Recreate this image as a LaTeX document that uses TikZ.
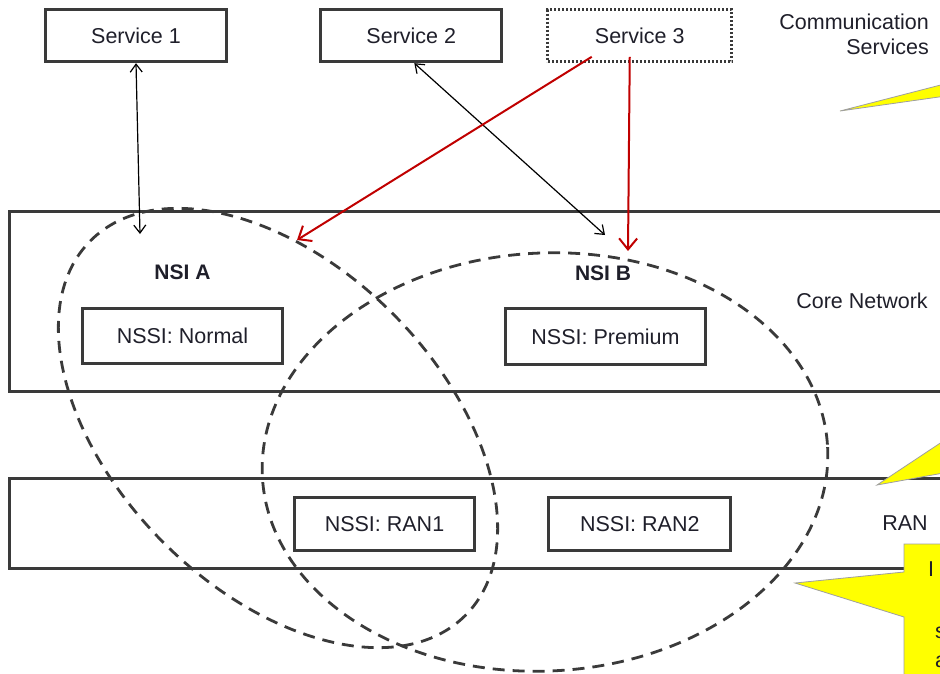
\documentclass[tikz,border=0pt]{standalone}
\usepackage{fontspec}
\setmainfont{Liberation Sans}
\usetikzlibrary{arrows.meta,positioning}

\definecolor{ink}{HTML}{1F1F2A}
\definecolor{edge}{HTML}{3A3A3A}
\definecolor{sred}{HTML}{C00000}
\definecolor{note}{HTML}{FFFF00}

\begin{document}
\begin{tikzpicture}[x=1pt,y=-1pt,
  every node/.style={font=\fontsize{21.5}{25}\selectfont,text=ink,inner sep=0pt},
  svc/.style={draw=edge,line width=3.3pt,minimum width=181pt,minimum height=52pt},
  svcplan/.style={draw=edge,line width=2.6pt,dash pattern=on 2pt off 2pt,minimum width=184pt,minimum height=52pt},
  nssi/.style={draw=edge,line width=3.3pt,minimum width=200pt,minimum height=55pt},
  layer/.style={draw=edge,line width=3.3pt,minimum width=960pt,anchor=north west},
  slice/.style={draw=edge,line width=2.8pt,dash pattern=on 12pt off 8pt},
  callout/.style={fill=note,draw=gray!75,line width=0.8pt},
  link/.style={draw=black,line width=1.2pt,{Straight Barb[length=8pt,width=12pt]}-{Straight Barb[length=8pt,width=12pt]}},
  redlink/.style={draw=sred,line width=2pt,-{Straight Barb[length=11pt,width=18pt]}}]
  \useasboundingbox (0,0) rectangle (940,673);
  \clip (0,0) rectangle (940,673);

  % layers
  \node[layer,minimum height=180pt] (core) at (8,210) {};
  \node[layer,minimum height=90pt] (ran) at (8,477) {};
  \node (coreLbl) at (862,301) {Core Network};
  \node (ranLbl) at (905,523) {RAN};
  \node[align=right,anchor=east] (commLbl) at (929,34) {Communication\\Services};

  % services
  \node[svc] (s1) at (136,35.5) {Service 1};
  \node[svc] (s2) [right=91pt of s1] {Service 2};
  \node[svcplan] (s3) [right=43pt of s2] {Service 3};

  % subnet slices
  \node[nssi] (nnormal) at (182.5,336) {NSSI: Normal};
  \node[nssi,minimum height=56pt] (npremium) at (605.5,336.5) {NSSI: Premium};
  \node[nssi,minimum width=180pt,minimum height=53pt] (nran1) at (384.5,524) {NSSI: RAN1};
  \node[nssi,minimum width=182pt,minimum height=53pt] (nran2) [right=71pt of nran1] {NSSI: RAN2};
  \node[font=\fontsize{21}{25}\selectfont\bfseries] (nsiA) [above=27pt of nnormal] {NSI A};
  \node[font=\fontsize{21}{25}\selectfont\bfseries] (nsiB) at (603,273) {NSI B};

  % network slice instances
  \draw[slice,rotate around={-45:(278,428)}] (278,428) ellipse [x radius=265,y radius=162];
  \draw[slice,rotate around={3:(545,462)}] (545,462) ellipse [x radius=283,y radius=209];

  % links
  \coordinate (aTip) at (140,234);
  \coordinate (bTip) at (605,235);
  \coordinate (r1e) at (297,240);
  \coordinate (r2e) at (628,251);
  \draw[link] (s1.south) -- (aTip);
  \draw[link] ([xshift=3pt]s2.south) -- (bTip);
  \draw[redlink] ([xshift=-48pt,yshift=6pt]s3.south) -- (r1e);
  \draw[redlink] ([xshift=-10pt,yshift=6pt]s3.south) -- (r2e);

  % callouts
  \draw[callout] (840,111) -- (960,80) -- (960,94) -- cycle;
  \draw[callout] (877,485) -- (960,430) -- (960,470) -- cycle;
  \draw[callout] (904,544) -- (990,544) -- (990,700) -- (904,700) -- (904,617)
    -- (795,583) -- (904,572) -- cycle;
  \node[anchor=west] (noteI) at (928,569) {I};
  \node[anchor=west] (noteS) at (935,633) {s};
  \node[anchor=west] (noteA) at (935,662) {a};
\end{tikzpicture}
\end{document}
